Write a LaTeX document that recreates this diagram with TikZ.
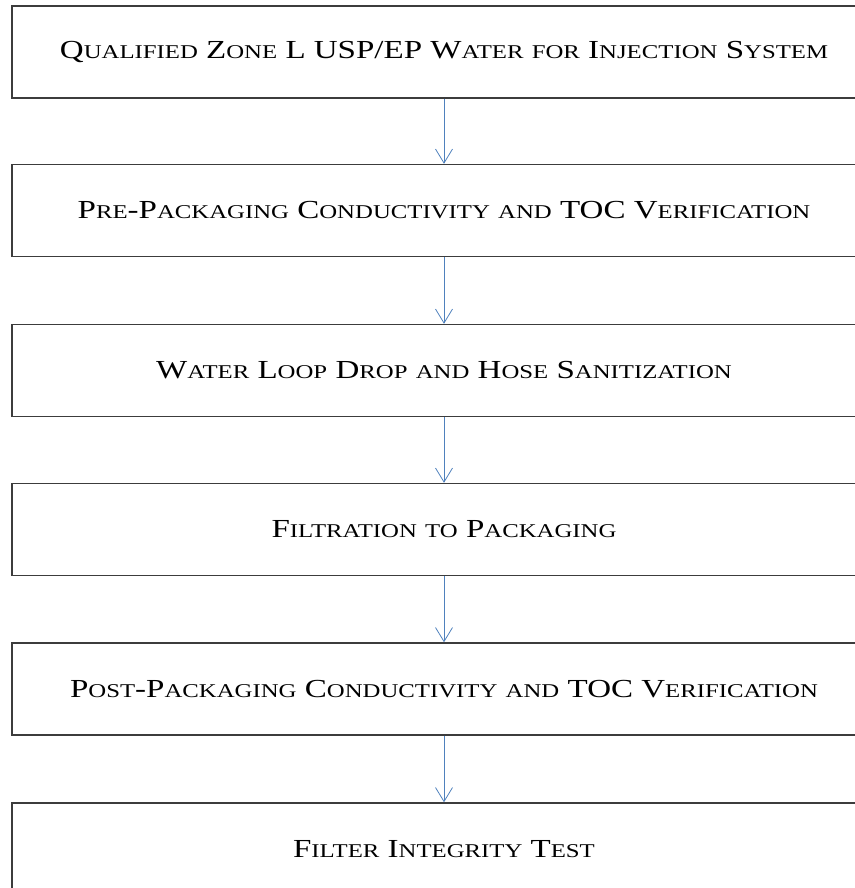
\documentclass[tikz,border=0pt]{standalone}
\usepackage{fontspec}
\setmainfont{Liberation Serif}[FakeStretch=1.27]
\usetikzlibrary{arrows.meta}
\definecolor{arrowblue}{RGB}{79,129,189}
\definecolor{boxgray}{RGB}{60,60,60}
\newcommand{\Sm}{\fontsize{19.5}{22}\selectfont}
\newcommand{\Fc}[2]{#1{\Sm #2}}
\tikzset{
  stepbox/.style={draw=boxgray, line width=1.4pt, rectangle, minimum width=864pt, minimum height=92pt, inner sep=0pt, font=\fontsize{26}{30}\selectfont, align=center},
  flow/.style={draw=arrowblue, line width=0.8pt, -{Straight Barb[length=14pt,width=17pt,line width=0.8pt]}}
}
\begin{document}
\begin{tikzpicture}[x=1pt,y=-1pt]
\useasboundingbox (0,0) rectangle (854,888);
\node[stepbox] (b1) at (444,52) {\Fc{Q}{UALIFIED} \Fc{Z}{ONE} L USP/EP \Fc{W}{ATER} {\Sm FOR} \Fc{I}{NJECTION} \Fc{S}{YSTEM}};
\node[stepbox] (b2) at (444,210.5) {\Fc{P}{RE}-\Fc{P}{ACKAGING} \Fc{C}{ONDUCTIVITY} {\Sm AND} TOC \Fc{V}{ERIFICATION}};
\node[stepbox] (b3) at (444,370.5) {\Fc{W}{ATER} \Fc{L}{OOP} \Fc{D}{ROP} {\Sm AND} \Fc{H}{OSE} \Fc{S}{ANITIZATION}};
\node[stepbox] (b4) at (444,529.5) {\Fc{F}{ILTRATION} {\Sm TO} \Fc{P}{ACKAGING}};
\node[stepbox] (b5) at (444,689) {\Fc{P}{OST}-\Fc{P}{ACKAGING} \Fc{C}{ONDUCTIVITY} {\Sm AND} TOC \Fc{V}{ERIFICATION}};
\node[stepbox] (b6) at (444,849) {\Fc{F}{ILTER} \Fc{I}{NTEGRITY} \Fc{T}{EST}};
\draw[flow] (b1.south) -- (b2.north);
\draw[flow] (b2.south) -- (b3.north);
\draw[flow] (b3.south) -- (b4.north);
\draw[flow] (b4.south) -- (b5.north);
\draw[flow] (b5.south) -- (b6.north);
\end{tikzpicture}
\end{document}
